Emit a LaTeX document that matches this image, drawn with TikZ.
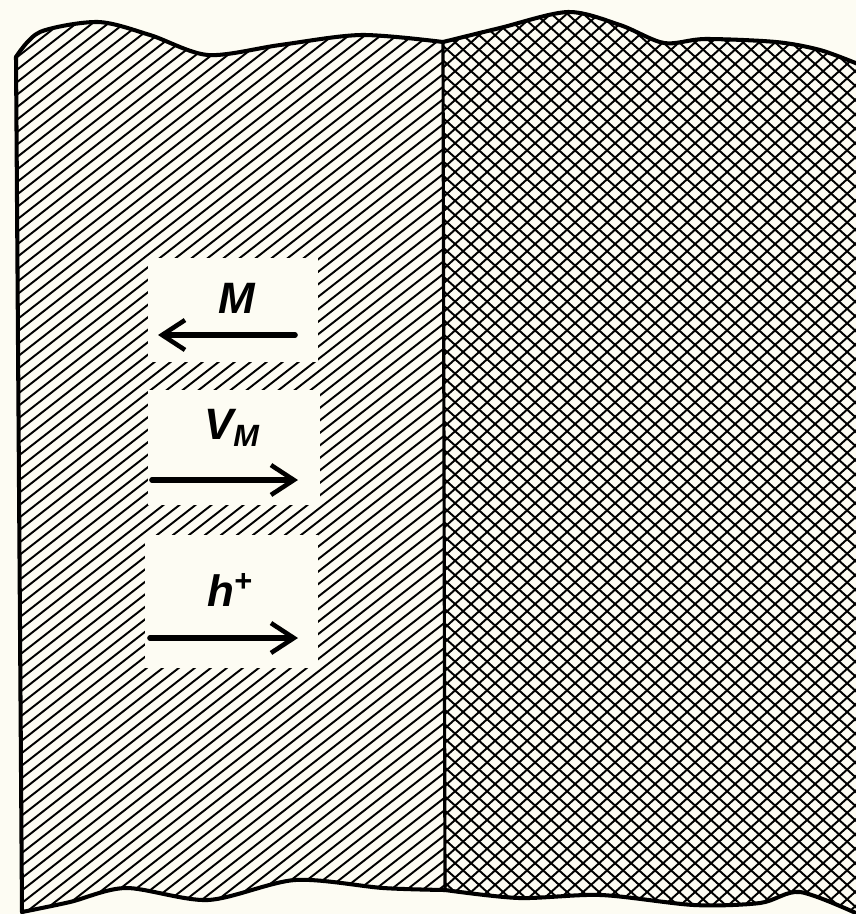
\documentclass[tikz,border=0pt]{standalone}
\usepackage{fontspec}
\setmainfont{Liberation Sans}
\usetikzlibrary{arrows.meta}
\definecolor{paper}{RGB}{253,252,243}
\tikzset{
	edge/.style={line width=2.3pt,line join=round,line cap=round},
	hatch/.style={line width=1.1pt},
	lab/.style={font=\fontsize{25}{28}\selectfont\bfseries\itshape,inner sep=0pt},
	arr/.style={line width=3.2pt,-{Straight Barb[length=13pt,width=17pt,line width=2.6pt]}}
}
\begin{document}
\begin{tikzpicture}[x=0.02cm,y=-0.02cm,line join=round,line cap=round]
	\fill[paper] (0,0) rectangle (856,914);
	\useasboundingbox (0,0) rectangle (856,914);
	% top and bottom edges
	\path
	(16,57) coordinate (t1) (40,32) coordinate (t2) (98,22) coordinate (t3)
	(150,35) coordinate (t4) (208,55) coordinate (t5) (280,45) coordinate (t6)
	(361,35) coordinate (t7) (443,42) coordinate (t8) (500,28) coordinate (t9)
	(568,12) coordinate (t10) (620,25) coordinate (t11) (664,43) coordinate (t12)
	(705,39) coordinate (t13) (776,42) coordinate (t14) (820,50) coordinate (t15)
	(858,64) coordinate (t16)
	(22,912) coordinate (b1) (70,902) coordinate (b2) (126,888) coordinate (b3)
	(208,900) coordinate (b4) (295,880) coordinate (b5) (383,888) coordinate (b6)
	(445,890) coordinate (b7) (519,898) coordinate (b8) (601,895) coordinate (b9)
	(694,905) coordinate (b10) (760,903) coordinate (b11) (800,892) coordinate (b12)
	(858,914) coordinate (b13);
	\path[save path=\leftpart] plot[smooth] coordinates {(t1) (t2) (t3) (t4) (t5) (t6) (t7) (t8)}
	-- plot[smooth] coordinates {(b7) (b6) (b5) (b4) (b3) (b2) (b1)} -- cycle;
	\path[save path=\rightpart] plot[smooth] coordinates {(t8) (t9) (t10) (t11) (t12) (t13) (t14) (t15) (t16)}
	-- plot[smooth] coordinates {(b13) (b12) (b11) (b10) (b9) (b8) (b7)} -- cycle;
	% single hatching
	\begin{scope}
		\clip[use path=\leftpart];
		\foreach \c in {-1200,-1184,...,470}
		\draw[hatch] (\c,920) -- ++(1200,-937);
	\end{scope}
	% cross hatching
	\begin{scope}
		\clip[use path=\rightpart];
		\foreach \c in {-680,-664,...,870}{
			\draw[hatch] (\c,920) -- ++(1100,-990);
			\draw[hatch] (\c,0) -- ++(1100,990);
		}
	\end{scope}
	\draw[edge] plot[smooth] coordinates {(t1) (t2) (t3) (t4) (t5) (t6) (t7) (t8)};
	\draw[edge] plot[smooth] coordinates {(t8) (t9) (t10) (t11) (t12) (t13) (t14) (t15) (t16)};
	\draw[edge] plot[smooth] coordinates {(b1) (b2) (b3) (b4) (b5) (b6) (b7)};
	\draw[edge] plot[smooth] coordinates {(b7) (b8) (b9) (b10) (b11) (b12) (b13)};
	\draw[edge] (t1) -- (b1);
	\draw[line width=1.8pt] (t8) -- (b7);
	% blank fields for the labels
	\fill[paper] (148,258) rectangle (318,362);
	\fill[paper] (148,390) rectangle (320,505);
	\fill[paper] (145,535) rectangle (318,668);
	\node[lab] (labM) at (237,298) {M};
	\node[lab] (labV) at (232,428) {V\textsubscript{M}};
	\node[lab] (labH) at (230,590) {h\textsuperscript{+}};
	\path
	(295,335) coordinate (mS) (158,335) coordinate (mE)
	(152,480) coordinate (vS) (298,480) coordinate (vE)
	(150,638) coordinate (hS) (298,638) coordinate (hE);
	\draw[arr] (mS) -- (mE);
	\draw[arr] (vS) -- (vE);
	\draw[arr] (hS) -- (hE);
\end{tikzpicture}
\end{document}
